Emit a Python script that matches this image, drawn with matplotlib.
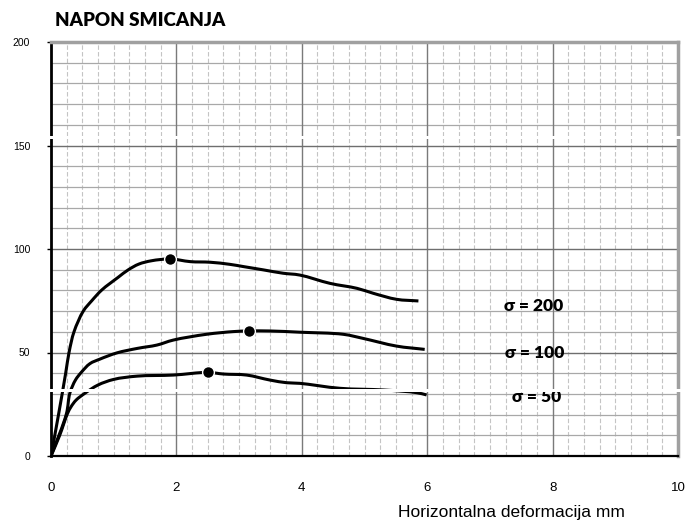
import matplotlib
matplotlib.use("Agg")
import math
import matplotlib.pyplot as plt
from matplotlib.patches import Rectangle, PathPatch
from matplotlib.path import Path

# ---- data ----
x200 = [0, 0.12, 0.234, 0.29, 0.367, 0.515, 0.65, 0.81, 1.07, 1.23, 1.4, 1.6, 1.9,
        2.22, 2.54, 2.85, 3.07, 3.39, 3.70, 3.97, 4.45, 4.88, 5.14, 5.51, 5.86]
y200 = [0, 20.0, 40.0, 50.4, 60.0, 70.0, 75.0, 80.2, 86.3, 89.9, 92.7, 94.3, 95.2,
        93.9, 93.6, 92.6, 91.5, 89.9, 88.3, 87.4, 83.4, 81.0, 78.6, 75.7, 74.9]

x100 = [0, 0.245, 0.30, 0.39, 0.48, 0.62, 0.78, 1.05, 1.38, 1.69, 1.95, 2.48, 2.91, 3.15,
        3.49, 3.97, 4.66, 4.98, 5.51, 5.96]
y100 = [0, 20.3, 30.3, 36.7, 40.3, 44.6, 46.8, 49.8, 52.0, 53.6, 56.0, 58.8, 60.1, 60.4,
        60.4, 59.8, 58.8, 56.8, 53.1, 51.5]

x50 = [0, 0.14, 0.26, 0.32, 0.40, 0.54, 0.75, 1.0, 1.38, 1.95, 2.5, 2.75, 3.12, 3.49,
       3.76, 3.97, 4.61, 5.30, 5.83, 5.99]
y50 = [0, 10.1, 20.3, 23.8, 27.0, 30.3, 34.3, 37.0, 38.6, 39.1, 40.4, 39.6, 39.1, 36.7,
       35.4, 35.1, 32.7, 31.9, 30.6, 29.5]

peak_x = [1.9, 3.15, 2.5]
peak_y = [95.2, 60.4, 40.4]

series_labels = ["σ = 200", "σ = 100", "σ = 50"]
label_x = [7.70, 7.72, 7.74]
label_y = [72.6, 49.8, 28.6]

x_ticks = [0, 2, 4, 6, 8, 10]
y_ticks = [0, 50, 100, 150, 200]

title = "NAPON SMICANJA"
xlabel = "Horizontalna deformacija mm"

# ---- figure ----
W, H = 685, 525
fig = plt.figure(figsize=(W / 100, H / 100), dpi=100)
ax = fig.add_axes([51 / W, 1 - 456 / H, (678 - 51) / W, (456 - 42) / H])
ax.set_xlim(0, 10)
ax.set_ylim(0, 200)

# aspect factors so that smoothing works in (roughly) screen-isotropic space
SX = 627 / 10.0
SY = 414 / 200.0


def smooth_path(xs, ys, alpha=0.5):
    """Smoothed line through every point (centripetal Catmull-Rom drawn as
    cubic Bezier segments), like a spreadsheet 'smoothed line'."""
    P = [(x * SX, y * SY) for x, y in zip(xs, ys)]
    n = len(P)
    ext = [(2 * P[0][0] - P[1][0], 2 * P[0][1] - P[1][1])] + P + \
          [(2 * P[-1][0] - P[-2][0], 2 * P[-1][1] - P[-2][1])]

    def dist(a, b):
        return max(math.hypot(b[0] - a[0], b[1] - a[1]) ** alpha, 1e-9)

    verts = [P[0]]
    codes = [Path.MOVETO]
    for i in range(1, n):
        p0, p1, p2, p3 = ext[i - 1], ext[i], ext[i + 1], ext[i + 2]
        d0, d1, d2 = dist(p0, p1), dist(p1, p2), dist(p2, p3)
        m1 = [((p1[k] - p0[k]) / d0 - (p2[k] - p0[k]) / (d0 + d1) + (p2[k] - p1[k]) / d1) * d1
              for k in range(2)]
        m2 = [((p2[k] - p1[k]) / d1 - (p3[k] - p1[k]) / (d1 + d2) + (p3[k] - p2[k]) / d2) * d1
              for k in range(2)]
        c1 = (p1[0] + m1[0] / 3, p1[1] + m1[1] / 3)
        c2 = (p2[0] - m2[0] / 3, p2[1] - m2[1] / 3)
        verts += [c1, c2, p2]
        codes += [Path.CURVE4] * 3
    verts = [(vx / SX, vy / SY) for vx, vy in verts]
    return Path(verts, codes)


# grid
for v in range(1, 40):
    xv = v * 0.25
    if abs(xv % 2) < 1e-9:
        continue
    ax.axvline(xv, color="#c4c4c4", lw=0.8, ls=(0, (4, 2)), zorder=1)
for xv in [2, 4, 6, 8]:
    ax.axvline(xv, color="#7a7a7a", lw=1.0, zorder=2)
for yv in range(10, 200, 10):
    if yv % 50 == 0:
        ax.axhline(yv, color="#6e6e6e", lw=1.0, zorder=2)
    else:
        ax.axhline(yv, color="#a8a8a8", lw=0.9, zorder=1.5)

for s in ["top", "right"]:
    ax.spines[s].set_color("#a0a0a0")
    ax.spines[s].set_linewidth(2.5)
ax.spines["left"].set_color("black")
ax.spines["left"].set_linewidth(2.0)
ax.spines["bottom"].set_color("black")
ax.spines["bottom"].set_linewidth(1.6)

ax.set_xticks(x_ticks)
ax.set_yticks(y_ticks)
ax.set_xticklabels([str(t) for t in x_ticks], fontfamily="Liberation Sans", fontsize=9.5)
ax.set_yticklabels([str(t) for t in y_ticks], fontfamily="Liberation Sans", fontsize=7.5)
ax.tick_params(axis="x", length=0, pad=19)
ax.tick_params(axis="y", length=3, width=1, direction="out", pad=12)

# curves (smoothed lines through the read points)
for xs, ys in [(x200, y200), (x100, y100), (x50, y50)]:
    ax.add_patch(PathPatch(smooth_path(xs, ys), facecolor="none",
                           edgecolor="black", lw=2.2, joinstyle="round",
                           capstyle="butt", zorder=5))
ax.plot(peak_x, peak_y, ls="none", marker="o", ms=8.5, color="black",
        mec="white", mew=1.0, zorder=6)

for lab, lx, ly in zip(series_labels, label_x, label_y):
    ax.text(lx, ly, lab, ha="center", va="center", fontsize=12.5,
            fontweight="heavy", fontfamily="Lato", zorder=7)

fig.text(55 / W, 1 - 20 / H, title, ha="left", va="center", fontsize=13.5,
         fontweight="heavy", fontfamily="Lato")
fig.text(511 / W, 1 - 512 / H, xlabel, ha="center", va="center",
         fontsize=12.5, fontfamily="Liberation Sans")

# white scan strips seen in the reference
for yc in [137, 390]:
    fig.patches.append(Rectangle((40 / W, 1 - (yc + 1.5) / H), 642 / W, 3 / H,
                                 transform=fig.transFigure, facecolor="white",
                                 edgecolor="none", zorder=20))

fig.savefig("out.png", dpi=100)
